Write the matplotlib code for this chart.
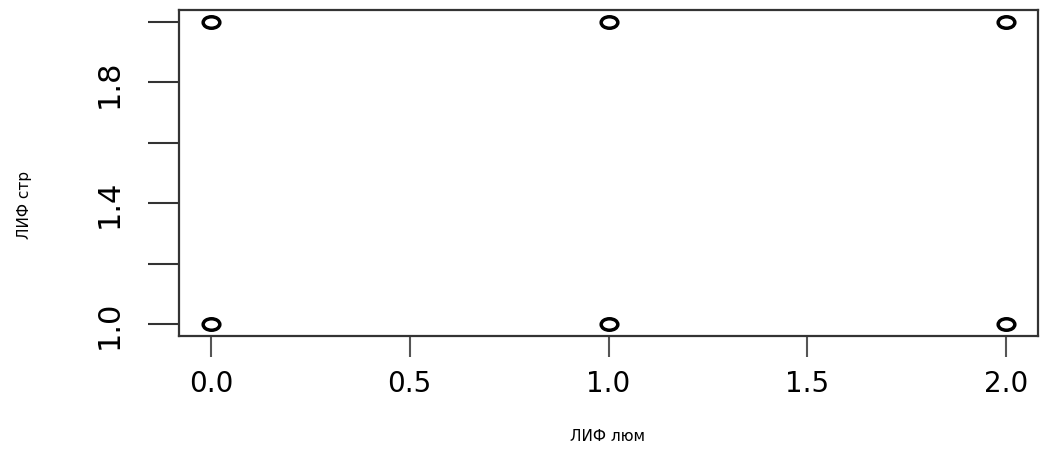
import numpy as np
import matplotlib.pyplot as plt
from matplotlib.path import Path
from matplotlib.transforms import Affine2D

plt.rcParams['font.family'] = 'DejaVu Sans'

# dades
lif_lum = [0, 1, 2, 0, 1, 2]
lif_str = [2, 2, 2, 1, 1, 1]
x_ticks = [0.0, 0.5, 1.0, 1.5, 2.0]
x_labels = ['0.0', '0.5', '1.0', '1.5', '2.0']
y_ticks = [1.0, 1.2, 1.4, 1.6, 1.8, 2.0]
y_labels = ['1.0', '', '1.4', '', '1.8', '']

fig = plt.figure(figsize=(10.45, 4.56), dpi=100)
ax = fig.add_axes([179/1045, (456-337)/456, (1038-179)/1045, (337-11)/456])

# cercle aixafat (la imatge original esta estirada en horitzontal)
ellipse = Path.unit_circle().transformed(Affine2D().scale(1.45, 1.0))
ax.plot(lif_lum, lif_str, linestyle='none', marker=ellipse, markersize=12,
        markerfacecolor='none', markeredgecolor='black', markeredgewidth=2.5)

ax.set_xlim(-0.08, 2.08)
ax.set_ylim(0.96, 2.04)

ax.set_xticks(x_ticks)
ax.set_xticklabels(x_labels, fontsize=20)
ax.set_yticks(y_ticks)
ax.set_yticklabels(y_labels, fontsize=22, rotation=90, va='center')

ax.tick_params(axis='x', length=15, width=1.5, color='#555555', pad=9)
ax.tick_params(axis='y', length=22, width=1.5, color='#333333', pad=18)

for s in ax.spines.values():
    s.set_linewidth(1.6)
    s.set_color('#333333')

fig.text(608/1045, 1 - 437/456, 'ЛИФ люм', fontsize=11, ha='center', va='center')
fig.text(25/1045, 1 - 205/456, 'ЛИФ стр', fontsize=11, ha='center', va='center', rotation=90)

fig.savefig('out.png', dpi=100)
